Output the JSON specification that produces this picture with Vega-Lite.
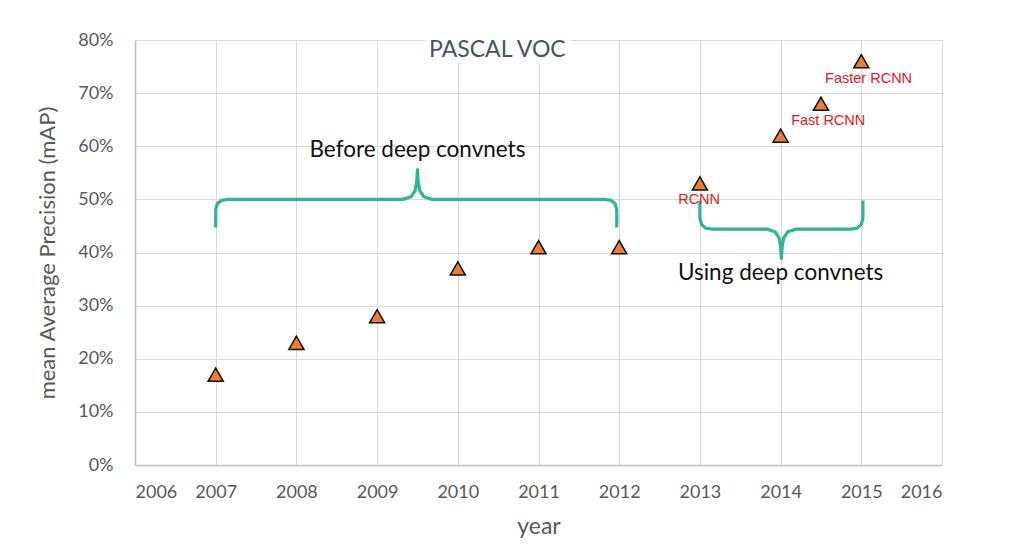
{
  "$schema": "https://vega.github.io/schema/vega-lite/v6.json",
  "width": 807,
  "height": 425,
  "autosize": "none",
  "padding": {"left": 135, "top": 40, "right": 67, "bottom": 87},
  "background": "white",
  "config": {
    "view": {"stroke": null},
    "font": "Lato"
  },
  "datasets": {
    "points": [
      {"year": 2007, "map": 17},
      {"year": 2008, "map": 23},
      {"year": 2009, "map": 28},
      {"year": 2010, "map": 37},
      {"year": 2011, "map": 41},
      {"year": 2012, "map": 41},
      {"year": 2013, "map": 53},
      {"year": 2014, "map": 62},
      {"year": 2014.5, "map": 68},
      {"year": 2015, "map": 76}
    ],
    "labels": [
      {"label": "RCNN", "year": 2012.99, "map": 49.8},
      {"label": "Fast RCNN", "year": 2014.59, "map": 64.8},
      {"label": "Faster RCNN", "year": 2015.09, "map": 72.7}
    ],
    "braces": [
      {"brace": "before", "i": 0, "year": 2007.0, "map": 44.7},
      {"brace": "before", "i": 1, "year": 2007.0, "map": 48.0},
      {"brace": "before", "i": 2, "year": 2007.02, "map": 49.2},
      {"brace": "before", "i": 3, "year": 2007.07, "map": 49.8},
      {"brace": "before", "i": 4, "year": 2007.15, "map": 50.0},
      {"brace": "before", "i": 5, "year": 2009.32, "map": 50.0},
      {"brace": "before", "i": 6, "year": 2009.42, "map": 50.5},
      {"brace": "before", "i": 7, "year": 2009.47, "map": 51.6},
      {"brace": "before", "i": 8, "year": 2009.49, "map": 53.2},
      {"brace": "before", "i": 9, "year": 2009.5, "map": 55.6},
      {"brace": "before", "i": 10, "year": 2009.51, "map": 53.2},
      {"brace": "before", "i": 11, "year": 2009.53, "map": 51.6},
      {"brace": "before", "i": 12, "year": 2009.58, "map": 50.5},
      {"brace": "before", "i": 13, "year": 2009.68, "map": 50.0},
      {"brace": "before", "i": 14, "year": 2011.82, "map": 50.0},
      {"brace": "before", "i": 15, "year": 2011.9, "map": 49.8},
      {"brace": "before", "i": 16, "year": 2011.95, "map": 49.2},
      {"brace": "before", "i": 17, "year": 2011.97, "map": 48.0},
      {"brace": "before", "i": 18, "year": 2011.97, "map": 44.7},
      {"brace": "using", "i": 0, "year": 2013.0, "map": 49.8},
      {"brace": "using", "i": 1, "year": 2013.0, "map": 46.5},
      {"brace": "using", "i": 2, "year": 2013.02, "map": 45.3},
      {"brace": "using", "i": 3, "year": 2013.07, "map": 44.6},
      {"brace": "using", "i": 4, "year": 2013.15, "map": 44.4},
      {"brace": "using", "i": 5, "year": 2013.83, "map": 44.4},
      {"brace": "using", "i": 6, "year": 2013.93, "map": 43.9},
      {"brace": "using", "i": 7, "year": 2013.98, "map": 42.8},
      {"brace": "using", "i": 8, "year": 2014.0, "map": 41.2},
      {"brace": "using", "i": 9, "year": 2014.01, "map": 38.9},
      {"brace": "using", "i": 10, "year": 2014.02, "map": 41.2},
      {"brace": "using", "i": 11, "year": 2014.04, "map": 42.8},
      {"brace": "using", "i": 12, "year": 2014.09, "map": 43.9},
      {"brace": "using", "i": 13, "year": 2014.19, "map": 44.4},
      {"brace": "using", "i": 14, "year": 2014.87, "map": 44.4},
      {"brace": "using", "i": 15, "year": 2014.95, "map": 44.6},
      {"brace": "using", "i": 16, "year": 2015.0, "map": 45.3},
      {"brace": "using", "i": 17, "year": 2015.02, "map": 46.5},
      {"brace": "using", "i": 18, "year": 2015.02, "map": 49.8}
    ],
    "notes": [
      {"text": "Before deep convnets", "year": 2009.5, "map": 59.3},
      {"text": "Using deep convnets", "year": 2014.0, "map": 36.2}
    ]
  },
  "layer": [
    {
      "data": {"values": [{"x1": 2009.6, "x2": 2011.4, "y1": 75.8, "y2": 80.3}]},
      "mark": {"type": "rect", "fill": "white", "clip": true},
      "encoding": {
        "x": {"field": "x1", "type": "quantitative", "scale": {"domain": [2006, 2016], "nice": false},
          "axis": {"values": [2006, 2007, 2008, 2009, 2010, 2011, 2012, 2013, 2014, 2015, 2016], "format": "d", "title": "year",
            "grid": true, "gridColor": "#d9d9d9", "gridWidth": 1, "domainColor": "#bfbfbf", "domainWidth": 1.5, "ticks": false,
            "labelFont": "Lato", "labelFontSize": 18, "labelColor": "#595959", "labelPadding": 18,
            "titleFont": "Lato", "titleFontSize": 23, "titleFontWeight": "normal", "titleColor": "#595959", "titlePadding": 14}},
        "x2": {"field": "x2"},
        "y": {"field": "y1", "type": "quantitative", "scale": {"domain": [0, 80], "nice": false},
          "axis": {"values": [0, 10, 20, 30, 40, 50, 60, 70, 80], "labelExpr": "datum.value + '%'", "title": "mean Average Precision (mAP)",
            "grid": true, "gridColor": "#d9d9d9", "gridWidth": 1, "domainColor": "#bfbfbf", "domainWidth": 1.5, "ticks": false,
            "labelFont": "Lato", "labelFontSize": 18, "labelColor": "#595959", "labelPadding": 22,
            "titleFont": "Lato", "titleFontSize": 22, "titleFontWeight": "normal", "titleColor": "#595959", "titlePadding": 18}},
        "y2": {"field": "y2"}
      }
    },
    {
      "data": {"name": "braces"},
      "mark": {"type": "line", "color": "#2eb592", "strokeWidth": 3.2, "strokeJoin": "round", "strokeCap": "butt"},
      "encoding": {
        "x": {"field": "year", "type": "quantitative"},
        "y": {"field": "map", "type": "quantitative"},
        "detail": {"field": "brace"},
        "order": {"field": "i", "type": "quantitative"}
      }
    },
    {
      "data": {"name": "points"},
      "mark": {"type": "point", "shape": "triangle-up", "filled": true, "fill": "#ed7d31", "stroke": "#111111", "strokeWidth": 1.5, "size": 230, "opacity": 1},
      "encoding": {
        "x": {"field": "year", "type": "quantitative"},
        "y": {"field": "map", "type": "quantitative"}
      }
    },
    {
      "data": {"name": "labels"},
      "mark": {"type": "text", "color": "#e8141c", "font": "Liberation Sans", "fontSize": 14.5},
      "encoding": {
        "x": {"field": "year", "type": "quantitative"},
        "y": {"field": "map", "type": "quantitative"},
        "text": {"field": "label"}
      }
    },
    {
      "data": {"name": "notes"},
      "mark": {"type": "text", "color": "#111111", "font": "Lato", "fontSize": 22.5},
      "encoding": {
        "x": {"field": "year", "type": "quantitative"},
        "y": {"field": "map", "type": "quantitative"},
        "text": {"field": "text"}
      }
    },
    {
      "data": {"values": [{"text": "PASCAL VOC", "year": 2010.49, "map": 78.2}]},
      "mark": {"type": "text", "color": "#44546a", "font": "Lato", "fontSize": 23},
      "encoding": {
        "x": {"field": "year", "type": "quantitative"},
        "y": {"field": "map", "type": "quantitative"},
        "text": {"field": "text"}
      }
    }
  ]
}
